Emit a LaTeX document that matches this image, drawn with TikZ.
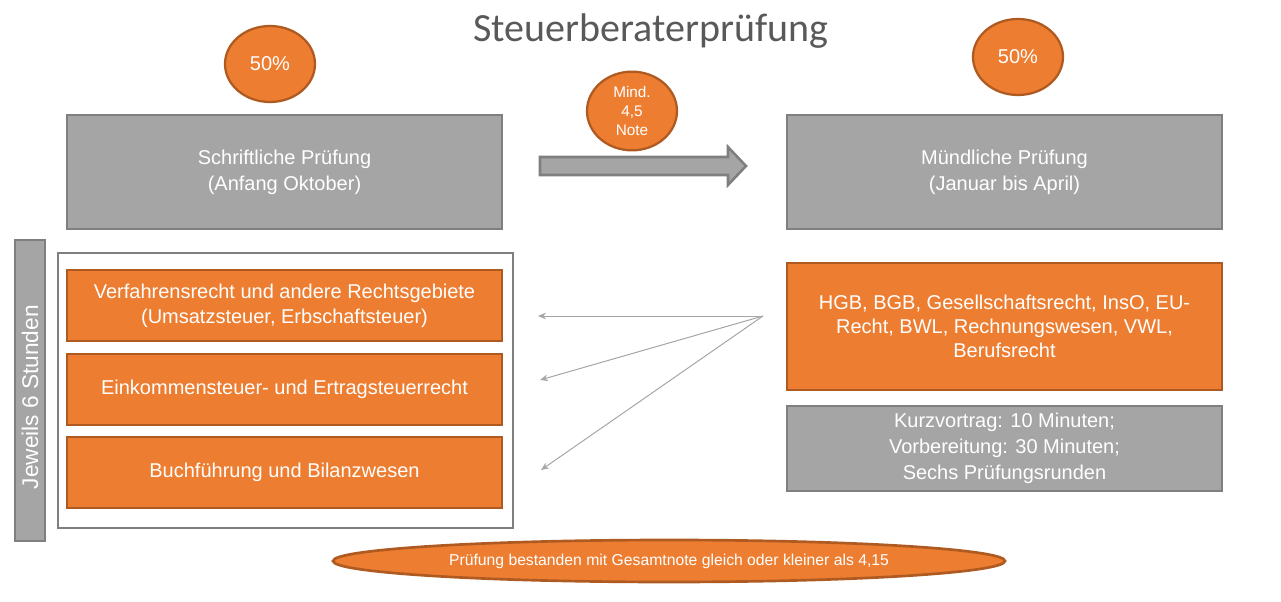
\documentclass[tikz,border=0pt]{standalone}
\usepackage{fontspec}
\setmainfont{Liberation Sans}
\newfontfamily\titlefont{Carlito}
\usetikzlibrary{shapes.geometric,arrows.meta}
\definecolor{orfill}{HTML}{ED7D31}
\definecolor{ordraw}{HTML}{AE5A21}
\definecolor{grfill}{HTML}{A5A5A5}
\definecolor{grdraw}{HTML}{7F7F7F}
\definecolor{titlegray}{HTML}{595959}
\definecolor{linegray}{HTML}{A6A6A6}
\begin{document}
\begin{tikzpicture}[x=0.75pt,y=-0.75pt,
  graybox/.style={rectangle,fill=grfill,draw=grdraw,line width=1.9pt,text=white,align=center,inner sep=0pt,font=\fontsize{15}{19.5}\selectfont},
  orangebox/.style={rectangle,fill=orfill,draw=ordraw,line width=1.7pt,text=white,align=center,inner sep=0pt,font=\fontsize{15}{19}\selectfont},
  bubble/.style={ellipse,fill=orfill,draw=ordraw,line width=1.7pt,text=white,align=center,inner sep=0pt,minimum width=67.5pt,minimum height=57pt,font=\fontsize{15}{18}\selectfont},
  frame/.style={rectangle,draw=grdraw,line width=1.7pt,fill=white,inner sep=0pt},
  thinarrow/.style={draw=linegray,line width=0.75pt,-{Stealth[length=6pt,width=5pt]}},
  blockarrow/.style={fill=grfill,draw=grdraw,line width=1.9pt,line join=miter}
]
\path[use as bounding box] (0,0) rectangle (1281,602);

\node[text=titlegray,font=\titlefont\fontsize{30}{32}\selectfont] (title) at (651,31) {Steuerberaterprüfung};

\node[bubble] (p1) at (270,64) {50\%};
\node[bubble] (p2) at (1018,57) {50\%};
\node[bubble,minimum height=59pt,font=\fontsize{11.5}{14}\selectfont] (mind) at (632,111) {Mind.\\4,5\\Note};

\node[graybox,minimum width=326.25pt,minimum height=85.5pt] (schrift) at (284.5,172) {Schriftliche Prüfung\\(Anfang Oktober)};
\node[graybox,minimum width=326.25pt,minimum height=85.5pt] (muend) at (1004.5,172) {Mündliche Prüfung\\(Januar bis April)};

\draw[blockarrow] (540,157) -- (728,157) -- (728,147) -- (746,166) -- (728,185) -- (728,175) -- (540,175) -- cycle;

\node[graybox,rotate=90,minimum width=225.75pt,minimum height=22.5pt,font=\fontsize{17}{18}\selectfont] (bar) at (30,390.5) {Jeweils 6 Stunden\hspace{10pt}};

\node[frame,minimum width=341.25pt,minimum height=206.25pt] (frame) at (285.5,390.5) {};

\node[orangebox,minimum width=326.25pt,minimum height=53.25pt] (f1) at (284.5,305.5) {Verfahrensrecht und andere Rechtsgebiete\\(Umsatzsteuer, Erbschaftsteuer)};
\node[orangebox,minimum width=326.25pt,minimum height=53.25pt] (f2) at (284.5,389.5) {Einkommensteuer- und Ertragsteuerrecht};
\node[orangebox,minimum width=326.25pt,minimum height=53.25pt] (f3) at (284.5,472.5) {Buchführung und Bilanzwesen};

\node[orangebox,minimum width=326.25pt,minimum height=95.25pt,font=\fontsize{15}{18}\selectfont] (fach) at (1004.5,326.5) {HGB, BGB, Gesellschaftsrecht, InsO, EU-\\Recht, BWL, Rechnungswesen, VWL,\\Berufsrecht};
\node[graybox,minimum width=326.25pt,minimum height=63.75pt] (ablauf) at (1004.5,448.5) {Kurzvortrag: 10 Minuten;\\Vorbereitung: 30 Minuten;\\Sechs Prüfungsrunden};

\node[bubble,line width=2pt,minimum width=504pt,minimum height=31.5pt,font=\fontsize{11.8}{13}\selectfont] (result) at (669,561) {Prüfung bestanden mit Gesamtnote gleich oder kleiner als 4,15};

\coordinate (src) at (763,316);
\coordinate (t1) at (538,316);
\coordinate (t2) at (540,380);
\coordinate (t3) at (541,470);
\draw[thinarrow] (src) -- (t1);
\draw[thinarrow] (src) -- (t2);
\draw[thinarrow] (src) -- (t3);
\end{tikzpicture}
\end{document}
